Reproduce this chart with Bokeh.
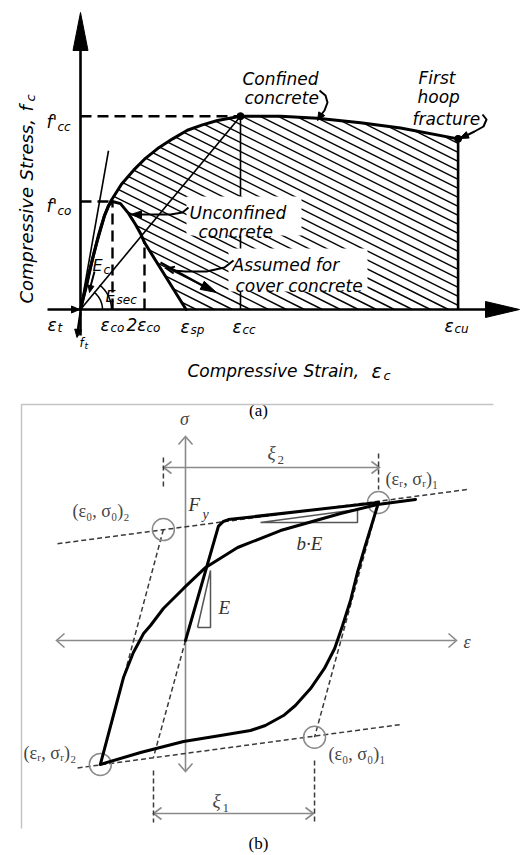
import math
from bokeh.plotting import figure
from bokeh.models import Range1d
from bokeh.core.properties import value
from bokeh.embed import file_html
from bokeh.resources import INLINE

# ---------------- (a) confined / unconfined concrete (strain / eps_co, stress / f'co) ----------
conf_strain = [0, 0.25, 0.5, 0.75, 0.94, 1.28, 1.66, 2.03, 2.41, 2.88, 3.34, 3.81, 4.28, 5.0, 6.25, 7.4, 8.75, 10.0, 11.8]
conf_stress = [0, 0.32, 0.61, 0.87, 1.0, 1.16, 1.29, 1.40, 1.49, 1.58, 1.66, 1.71, 1.75, 1.79, 1.79, 1.77, 1.73, 1.68, 1.58]
unconf_strain = [0, 0.19, 0.375, 0.56, 0.75, 0.875, 1.0, 1.25, 1.5, 1.72, 1.875, 2.0]
unconf_stress = [0, 0.22, 0.47, 0.685, 0.87, 0.963, 1.0, 0.98, 0.89, 0.787, 0.704, 0.62]
cover_strain = [2.0, 3.3]
cover_stress = [0.62, 0.0]
tangent_strain = [0, 0.875]
tangent_stress = [0, 1.47]
eps_co, eps_2co, eps_sp, eps_cc, eps_cu = 1.0, 2.0, 3.3, 5.0, 11.8
f_co, f_cc, f_cu = 1.0, 1.79, 1.58

# ---------------- (b) Menegotto-Pinto steel (strain / eps_y, stress / Fy) ----------------
init_strain = [0, 1.0, 1.15, 1.3, 5.85]
init_stress = [0, 0.97, 1.01, 1.025, 1.17]
unload_strain = [5.85, 5.45, 5.21, 5.0, 4.76, 4.52, 4.21, 3.79, 3.33, 2.97, 2.42, 1.97, 1.06, -0.06, -1.36, -2.58]
unload_stress = [1.17, 0.805, 0.576, 0.339, 0.127, -0.068, -0.237, -0.407, -0.551, -0.636, -0.72, -0.763, -0.805, -0.856, -0.949, -1.05]
reload_strain = [-2.58, -2.21, -1.88, -1.58, -1.27, -1.06, -0.67, -0.06, 0.61, 1.58, 2.88, 4.70, 5.82, 6.97]
reload_stress = [-1.05, -0.661, -0.314, -0.102, 0.059, 0.127, 0.271, 0.441, 0.619, 0.788, 0.932, 1.076, 1.153, 1.195]
upper_asym_strain = [-3.88, 8.55]
upper_asym_stress = [0.82, 1.28]
lower_asym_strain = [-3.27, 6.58]
lower_asym_stress = [-1.08, -0.71]
eps0_2, sig0_2 = -0.67, 0.94
epsr_1, sigr_1 = 5.85, 1.17
epsr_2, sigr_2 = -2.58, -1.05
eps0_1, sig0_1 = 3.91, -0.82
origin_elastic_end = (-0.97, -0.99)


# ---------------- page geometry helpers (pixel -> panel units) -------------------------
def ax(px): return (px - 80) / 32.0
def ay(py): return (309 - py) / 108.0
def bx(px): return (px - 185) / 33.0
def by(py): return (640 - py) / 118.0
def a_px(x): return 80 + 32.0 * x
def a_py(y): return 309 - 108.0 * y

p = figure(width=520, height=855, x_range=Range1d(ax(0), ax(520)), y_range=Range1d(ay(855), ay(0)),
           output_backend="svg", toolbar_location=None, min_border=0,
           x_axis_location=None, y_axis_location=None,
           background_fill_color="white", border_fill_color="white")
p.grid.visible = False
p.outline_line_color = None
p.extra_x_ranges = {"bx": Range1d(bx(0), bx(520))}
p.extra_y_ranges = {"by": Range1d(by(855), by(0))}

RN = {"a": {}, "b": dict(x_range_name="bx", y_range_name="by")}
CV = {"a": (ax, ay), "b": (bx, by)}


def pline(panel, pts, **kw):
    fx, fy = CV[panel]
    p.line([fx(x) for x, y in pts], [fy(y) for x, y in pts], **RN[panel], **kw)


def ppatch(panel, pts, **kw):
    fx, fy = CV[panel]
    p.patch([fx(x) for x, y in pts], [fy(y) for x, y in pts], **RN[panel], **kw)


def head(panel, tip, tail, L, W, filled=True, color="black", lw=1.5):
    dx, dy = tip[0] - tail[0], tip[1] - tail[1]
    n = math.hypot(dx, dy)
    ux, uy = dx / n, dy / n
    bxp, byp = tip[0] - ux * L, tip[1] - uy * L
    left = (bxp - uy * W, byp + ux * W)
    right = (bxp + uy * W, byp - ux * W)
    if filled:
        ppatch(panel, [left, tip, right], fill_color=color, line_color=color, line_width=1)
    else:
        pline(panel, [left, tip, right], line_color=color, line_width=lw, line_join="miter")


def label(panel, px, py, s, size=15, font="DejaVu Sans", style="italic", align="left",
          baseline="alphabetic", color="black", angle=0):
    fx, fy = CV[panel]
    p.text(x=[fx(px)], y=[fy(py)], text=[s], text_font=value(font), text_font_size=f"{size}px",
           text_font_style=style, text_align=align, text_baseline=baseline, text_color=color,
           angle=angle, **RN[panel])


def hatch_segments(xs, ys, slope, step):
    vals = [y - slope * x for x, y in zip(xs, ys)]
    n = len(xs)
    sx, sy = [], []
    c = min(vals) + step / 2
    while c < max(vals):
        cuts = []
        for i in range(n):
            j = (i + 1) % n
            a, b = vals[i] - c, vals[j] - c
            if (a < 0) != (b < 0):
                t = a / (a - b)
                cuts.append(xs[i] + t * (xs[j] - xs[i]))
        cuts.sort()
        for k in range(0, len(cuts) - 1, 2):
            x0, x1 = cuts[k], cuts[k + 1]
            sx.append([ax(x0), ax(x1)])
            sy.append([ay(slope * x0 + c), ay(slope * x1 + c)])
        c += step
    return sx, sy


# ======================= PANEL (a) =======================
poly_x = conf_strain[4:] + [conf_strain[-1], cover_strain[1]] + unconf_strain[6:][::-1]
poly_y = conf_stress[4:] + [0.0, 0.0] + unconf_stress[6:][::-1]
hx, hy = hatch_segments([a_px(v) for v in poly_x], [a_py(v) for v in poly_y], 0.5, 9.0)
p.multi_line(hx, hy, line_color="black", line_width=1.4)

p.line([eps_cc, eps_cc], [0, f_cc], line_color="black", line_width=1.6)
p.line([0, eps_cc], [0, f_cc], line_color="black", line_width=1.6)
p.line(tangent_strain, tangent_stress, line_color="black", line_width=1.6)

# white label boxes inside hatching
p.quad(left=[ax(186), ax(228)], right=[ax(301), ax(367)], top=[ay(196), ay(248)], bottom=[ay(235), ay(291)],
       fill_color="white", line_color=None)

dash = dict(line_color="black", line_width=2.4, line_dash="11 6")
p.line([0, eps_cc], [f_cc, f_cc], **dash)
p.line([0, eps_co], [f_co, f_co], **dash)
p.line([eps_co, eps_co], [0, f_co], **dash)
p.line([eps_2co, eps_2co], [0, cover_stress[0]], **dash)

thick = dict(line_color="black", line_width=3, line_join="round", line_cap="round")
p.line(conf_strain, conf_stress, **thick)
p.line(unconf_strain, unconf_stress, **thick)
p.line(cover_strain, cover_stress, **thick)
p.line([eps_cu, eps_cu], [0, f_cu], line_color="black", line_width=2.6)
p.scatter([eps_cc, eps_cu], [f_cc, f_cu], size=7, color="black")

# axes
pline("a", [(80, 335), (80, 40)], line_color="black", line_width=2.6)
head("a", (80, 12), (80, 60), 38, 7.5)
pline("a", [(47, 309), (490, 309)], line_color="black", line_width=2.6)
head("a", (519, 309), (480, 309), 34, 8)
head("a", (79, 309), (60, 309), 8, 3.5)
pline("a", [(80, 312), (77, 332)], line_color="black", line_width=2.4)
head("a", (76.5, 337), (79, 320), 8, 3.5)

for r in (22, 31):
    angs = [i * 52 / 12 for i in range(13)]
    pline("a", [(80 + r * math.cos(math.radians(t)), 309 - r * math.sin(math.radians(t))) for t in angs],
          line_color="black", line_width=1.5)

arr = dict(line_color="black", line_width=2, line_join="round")
pts = [(319, 90), (325, 95), (327, 102), (324, 110), (320, 115)]
pline("a", pts, **arr); head("a", (317, 120), (322, 112), 8, 3.5)
pts = [(482, 114), (486, 119), (483, 126), (474, 131), (466, 135)]
pline("a", pts, **arr); head("a", (459, 138), (468, 134), 9, 3.5)
pts = [(188, 207), (182, 212), (170, 214), (150, 214), (140, 214)]
pline("a", pts, **arr); head("a", (130, 214), (142, 214), 11, 3.5)
pts = [(233, 260), (224, 267), (206, 271), (185, 271), (172, 270)]
pline("a", pts, **arr); head("a", (166, 268), (176, 270), 8, 3.5, filled=False, lw=2)
pline("a", [(160, 262), (202, 285)], **arr); head("a", (216, 292), (200, 284), 16, 4.5)
pline("a", [(94, 271), (90, 286)], **arr); head("a", (89, 292), (91, 283), 7, 3)

# text (a)
label("a", 242, 78, "Confined", 17)
label("a", 244, 97, "concrete", 17)
label("a", 418, 77, "First", 17)
label("a", 417, 96, "hoop", 17)
label("a", 412, 118, "fracture", 17)
label("a", 189, 212, "Unconfined", 17)
label("a", 198, 231, "concrete", 17)
label("a", 232, 264, "Assumed for", 17)
label("a", 235, 285, "cover concrete", 17)
label("a", 92, 265, "E", 16); label("a", 103, 269, "c", 12)
label("a", 105, 296, "E", 16); label("a", 116, 299, "sec", 12)
label("a", 46, 121, "f'", 17); label("a", 57, 126, "cc", 12)
label("a", 46, 205, "f'", 17); label("a", 57, 210, "co", 12)
label("a", 47, 324, "ε", 17); label("a", 57, 327, "t", 12)
label("a", 100, 324, "ε", 17); label("a", 110, 327, "co", 12)
label("a", 126, 324, "2ε", 17); label("a", 146, 327, "co", 12)
label("a", 180, 326, "ε", 17); label("a", 190, 329, "sp", 12)
label("a", 232, 326, "ε", 17); label("a", 242, 329, "cc", 12)
label("a", 444, 325, "ε", 17); label("a", 454, 328, "cu", 12)
label("a", 79, 342, "f", 12); label("a", 84, 345, "t", 9)
label("a", 187, 370, "Compressive", 17)
label("a", 303, 370, "Strain,", 17)
label("a", 371, 370, "ε", 19)
label("a", 383, 375, "c", 13)
label("a", 26, 303, "Compressive", 18, angle=math.pi / 2)
label("a", 26, 180, "Stress,", 18, angle=math.pi / 2)
label("a", 26, 111, "f", 18, angle=math.pi / 2)
label("a", 30, 101, "c", 13, angle=math.pi / 2)
label("a", 258, 410, "(a)", 17, font="Liberation Serif", style="normal", align="center")

# ======================= PANEL (b) =======================
grey = "#8a8a8a"
dgrey = "#3a3a3a"
R = RN["b"]
pline("b", [(21, 828), (21, 404), (493, 404)], line_color="#c4c4c4", line_width=1.5)

pline("b", [(185, 437), (185, 770)], line_color=grey, line_width=1.6)
head("b", (185, 436), (185, 460), 8, 7, filled=False, color=grey, lw=1.6)
head("b", (185, 771), (185, 750), 8, 7, filled=False, color=grey, lw=1.6)
pline("b", [(57, 640), (455, 640)], line_color=grey, line_width=1.6)
head("b", (56, 640), (80, 640), 8, 7, filled=False, color=grey, lw=1.6)
head("b", (456, 640), (430, 640), 8, 7, filled=False, color=grey, lw=1.6)

pline("b", [(163, 467), (379, 467)], line_color=grey, line_width=1.6)
head("b", (163, 467), (190, 467), 8, 6, filled=False, color=grey, lw=1.6)
head("b", (379, 467), (350, 467), 8, 6, filled=False, color=grey, lw=1.6)
pline("b", [(153, 813), (313, 813)], line_color=grey, line_width=1.6)
head("b", (153, 813), (180, 813), 8, 6, filled=False, color=grey, lw=1.6)
head("b", (313, 813), (290, 813), 8, 6, filled=False, color=grey, lw=1.6)

bdash = dict(line_color=dgrey, line_width=1.5, line_dash="5 3", **R)
p.line(upper_asym_strain, upper_asym_stress, **bdash)
p.line(lower_asym_strain, lower_asym_stress, **bdash)
p.line([eps0_2, epsr_2], [sig0_2, sigr_2], **bdash)
p.line([epsr_1, eps0_1], [sigr_1, sig0_1], **bdash)
p.line([0, origin_elastic_end[0]], [0, origin_elastic_end[1]], **bdash)
p.line([eps0_2, eps0_2], [by(457), by(489)], **bdash)
p.line([epsr_1, epsr_1], [by(453), by(489)], **bdash)
p.line([origin_elastic_end[0], origin_elastic_end[0]], [by(770), by(822)], **bdash)
p.line([eps0_1, eps0_1], [by(760), by(822)], **bdash)

p.scatter([eps0_2, epsr_1, epsr_2, eps0_1], [sig0_2, sigr_1, sigr_2, sig0_1], size=22,
          fill_color=None, line_color=grey, line_width=1.5, **R)

pline("b", [(197, 627), (210, 627), (210, 570), (197, 627)], line_color="#555555", line_width=1.5)
pline("b", [(260, 522), (357, 522), (357, 509), (260, 522)], line_color="#555555", line_width=1.5)

bthick = dict(line_color="black", line_width=3, line_join="round", line_cap="round", **R)
p.line(init_strain, init_stress, **bthick)
p.line(unload_strain, unload_stress, **bthick)
p.line(reload_strain, reload_stress, **bthick)

SF = "Liberation Serif"
label("b", 184, 418, "σ", 18, font=SF, align="center", baseline="middle", color="#444444")
label("b", 463, 641, "ε", 18, font=SF, baseline="middle", color="#444444")
label("b", 267, 452, "ξ", 19, font=SF, baseline="middle", color="#444444")
label("b", 277, 459, "2", 13, font=SF, style="normal", baseline="middle", color="#444444")
label("b", 212, 800, "ξ", 19, font=SF, baseline="middle", color="#444444")
label("b", 222, 807, "1", 13, font=SF, style="normal", baseline="middle", color="#444444")
label("b", 188, 504, "F", 19, font=SF, baseline="middle", color="#333333")
label("b", 202, 514, "y", 14, font=SF, baseline="middle", color="#333333")
label("b", 218, 607, "E", 19, font=SF, baseline="middle", color="#333333")
label("b", 296, 543, "b·E", 19, font=SF, baseline="middle", color="#333333")
label("b", 72, 510, "(ε₀, σ₀)₂", 18, font=SF, style="normal", baseline="middle", color="#444444")
label("b", 385, 478, "(εᵣ, σᵣ)₁", 18, font=SF, style="normal", baseline="middle", color="#444444")
label("b", 23, 752, "(εᵣ, σᵣ)₂", 18, font=SF, style="normal", baseline="middle", color="#444444")
label("b", 328, 753, "(ε₀, σ₀)₁", 18, font=SF, style="normal", baseline="middle", color="#444444")
label("b", 258, 843, "(b)", 17, font=SF, style="normal", align="center", baseline="middle")

open("out.html", "w").write(file_html(p, INLINE))
